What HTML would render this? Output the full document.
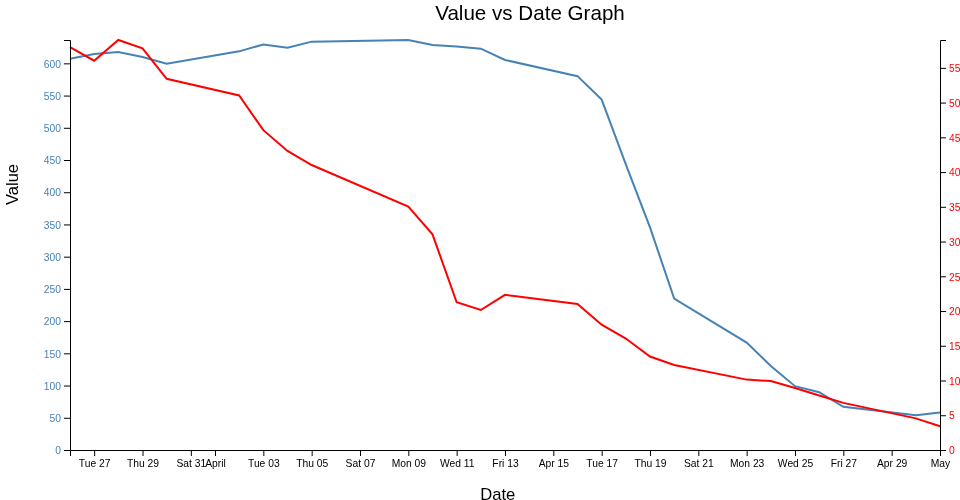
<!DOCTYPE html>
<html>
<head>
<meta charset="utf-8">
<title>Value vs Date Graph</title>
<style>
html,body{margin:0;padding:0;background:#fff;}
body{font-family:"Liberation Sans", sans-serif;overflow:hidden;}
svg{display:block;}
.axis path{fill:none;stroke:#000;stroke-width:1;}
.axis line{fill:none;stroke:#000;stroke-width:1;}
.axis text{font-size:10.3px;}
.line{fill:none;stroke-width:2;}
.title{font-size:20.6px;}
.label{font-size:16.6px;}
</style>
</head>
<body>
<svg width="960" height="500" viewBox="0 0 960 500">
<g transform="translate(70,40)">
<path class="line" stroke="steelblue" d="M870,372.54L845.833,375.214L773.333,366.824L749.167,352.195L725,346.202L700.833,326.045L676.667,302.575L604.167,258.574L580,187.391L555.833,124.302L531.667,59.628L507.5,36.152L435,19.977L410.833,8.674L386.667,6.464L362.5,5.02L338.333,0L241.667,1.643L217.5,7.681L193.333,4.453L169.167,11.342L96.667,23.637L72.5,16.993L48.333,11.993L24.167,14.016L0,18.849"/>
<path class="line" stroke="red" d="M870,386.307L845.833,378.387L773.333,362.893L749.167,355.458L725,348.024L700.833,341.076L676.667,339.617L604.167,325.026L580,316.55L555.833,298.554L531.667,284.728L507.5,263.954L435,254.782L410.833,269.998L386.667,262.286L362.5,194.335L338.333,166.543L241.667,124.994L217.5,110.89L193.333,90.185L169.167,55.445L96.667,38.839L72.5,8.268L48.333,0L24.167,20.705L0,7.017"/>
<g class="x axis" transform="translate(0,410)">
<g class="tick" transform="translate(24.667,0)"><line y2="6"></line><text dy=".71em" y="9.5" x="0" text-anchor="middle">Tue 27</text></g>
<g class="tick" transform="translate(73,0)"><line y2="6"></line><text dy=".71em" y="9.5" x="0" text-anchor="middle">Thu 29</text></g>
<g class="tick" transform="translate(121.333,0)"><line y2="6"></line><text dy=".71em" y="9.5" x="0" text-anchor="middle">Sat 31</text></g>
<g class="tick" transform="translate(145.5,0)"><line y2="6"></line><text dy=".71em" y="9.5" x="0" text-anchor="middle">April</text></g>
<g class="tick" transform="translate(193.833,0)"><line y2="6"></line><text dy=".71em" y="9.5" x="0" text-anchor="middle">Tue 03</text></g>
<g class="tick" transform="translate(242.167,0)"><line y2="6"></line><text dy=".71em" y="9.5" x="0" text-anchor="middle">Thu 05</text></g>
<g class="tick" transform="translate(290.5,0)"><line y2="6"></line><text dy=".71em" y="9.5" x="0" text-anchor="middle">Sat 07</text></g>
<g class="tick" transform="translate(338.833,0)"><line y2="6"></line><text dy=".71em" y="9.5" x="0" text-anchor="middle">Mon 09</text></g>
<g class="tick" transform="translate(387.167,0)"><line y2="6"></line><text dy=".71em" y="9.5" x="0" text-anchor="middle">Wed 11</text></g>
<g class="tick" transform="translate(435.5,0)"><line y2="6"></line><text dy=".71em" y="9.5" x="0" text-anchor="middle">Fri 13</text></g>
<g class="tick" transform="translate(483.833,0)"><line y2="6"></line><text dy=".71em" y="9.5" x="0" text-anchor="middle">Apr 15</text></g>
<g class="tick" transform="translate(532.167,0)"><line y2="6"></line><text dy=".71em" y="9.5" x="0" text-anchor="middle">Tue 17</text></g>
<g class="tick" transform="translate(580.5,0)"><line y2="6"></line><text dy=".71em" y="9.5" x="0" text-anchor="middle">Thu 19</text></g>
<g class="tick" transform="translate(628.833,0)"><line y2="6"></line><text dy=".71em" y="9.5" x="0" text-anchor="middle">Sat 21</text></g>
<g class="tick" transform="translate(677.167,0)"><line y2="6"></line><text dy=".71em" y="9.5" x="0" text-anchor="middle">Mon 23</text></g>
<g class="tick" transform="translate(725.5,0)"><line y2="6"></line><text dy=".71em" y="9.5" x="0" text-anchor="middle">Wed 25</text></g>
<g class="tick" transform="translate(773.833,0)"><line y2="6"></line><text dy=".71em" y="9.5" x="0" text-anchor="middle">Fri 27</text></g>
<g class="tick" transform="translate(822.167,0)"><line y2="6"></line><text dy=".71em" y="9.5" x="0" text-anchor="middle">Apr 29</text></g>
<g class="tick" transform="translate(870.5,0)"><line y2="6"></line><text dy=".71em" y="9.5" x="0" text-anchor="middle">May</text></g>
<path class="domain" d="M0.5,6V0.5H870.5V6"></path>
</g>
<g class="y axis" fill="steelblue">
<g class="tick" transform="translate(0,410.5)"><line x2="-6"></line><text dy=".32em" x="-9" y="0.4" text-anchor="end">0</text></g>
<g class="tick" transform="translate(0,378.279)"><line x2="-6"></line><text dy=".32em" x="-9" y="0.4" text-anchor="end">50</text></g>
<g class="tick" transform="translate(0,346.058)"><line x2="-6"></line><text dy=".32em" x="-9" y="0.4" text-anchor="end">100</text></g>
<g class="tick" transform="translate(0,313.837)"><line x2="-6"></line><text dy=".32em" x="-9" y="0.4" text-anchor="end">150</text></g>
<g class="tick" transform="translate(0,281.616)"><line x2="-6"></line><text dy=".32em" x="-9" y="0.4" text-anchor="end">200</text></g>
<g class="tick" transform="translate(0,249.395)"><line x2="-6"></line><text dy=".32em" x="-9" y="0.4" text-anchor="end">250</text></g>
<g class="tick" transform="translate(0,217.174)"><line x2="-6"></line><text dy=".32em" x="-9" y="0.4" text-anchor="end">300</text></g>
<g class="tick" transform="translate(0,184.953)"><line x2="-6"></line><text dy=".32em" x="-9" y="0.4" text-anchor="end">350</text></g>
<g class="tick" transform="translate(0,152.732)"><line x2="-6"></line><text dy=".32em" x="-9" y="0.4" text-anchor="end">400</text></g>
<g class="tick" transform="translate(0,120.511)"><line x2="-6"></line><text dy=".32em" x="-9" y="0.4" text-anchor="end">450</text></g>
<g class="tick" transform="translate(0,88.289)"><line x2="-6"></line><text dy=".32em" x="-9" y="0.4" text-anchor="end">500</text></g>
<g class="tick" transform="translate(0,56.068)"><line x2="-6"></line><text dy=".32em" x="-9" y="0.4" text-anchor="end">550</text></g>
<g class="tick" transform="translate(0,23.847)"><line x2="-6"></line><text dy=".32em" x="-9" y="0.4" text-anchor="end">600</text></g>
<path class="domain" d="M-6,0.5H0.5V410.5H-6"></path>
</g>
<g class="y axis" fill="red" transform="translate(870,0)">
<g class="tick" transform="translate(0,410.5)"><line x2="6"></line><text dy=".32em" x="9" y="0.4" text-anchor="start">0</text></g>
<g class="tick" transform="translate(0,375.76)"><line x2="6"></line><text dy=".32em" x="9" y="0.4" text-anchor="start">5</text></g>
<g class="tick" transform="translate(0,341.02)"><line x2="6"></line><text dy=".32em" x="9" y="0.4" text-anchor="start">10</text></g>
<g class="tick" transform="translate(0,306.28)"><line x2="6"></line><text dy=".32em" x="9" y="0.4" text-anchor="start">15</text></g>
<g class="tick" transform="translate(0,271.541)"><line x2="6"></line><text dy=".32em" x="9" y="0.4" text-anchor="start">20</text></g>
<g class="tick" transform="translate(0,236.801)"><line x2="6"></line><text dy=".32em" x="9" y="0.4" text-anchor="start">25</text></g>
<g class="tick" transform="translate(0,202.061)"><line x2="6"></line><text dy=".32em" x="9" y="0.4" text-anchor="start">30</text></g>
<g class="tick" transform="translate(0,167.321)"><line x2="6"></line><text dy=".32em" x="9" y="0.4" text-anchor="start">35</text></g>
<g class="tick" transform="translate(0,132.581)"><line x2="6"></line><text dy=".32em" x="9" y="0.4" text-anchor="start">40</text></g>
<g class="tick" transform="translate(0,97.841)"><line x2="6"></line><text dy=".32em" x="9" y="0.4" text-anchor="start">45</text></g>
<g class="tick" transform="translate(0,63.101)"><line x2="6"></line><text dy=".32em" x="9" y="0.4" text-anchor="start">50</text></g>
<g class="tick" transform="translate(0,28.361)"><line x2="6"></line><text dy=".32em" x="9" y="0.4" text-anchor="start">55</text></g>
<path class="domain" d="M6,0.5H0.5V410.5H6"></path>
</g>
<text class="label" x="427.8" y="460.4" text-anchor="middle">Date</text>
<text class="label" transform="rotate(-90)" x="-144.5" y="-52" text-anchor="middle">Value</text>
<text class="title" x="460" y="-20" text-anchor="middle">Value vs Date Graph</text>
</g>
</svg>
</body>
</html>
